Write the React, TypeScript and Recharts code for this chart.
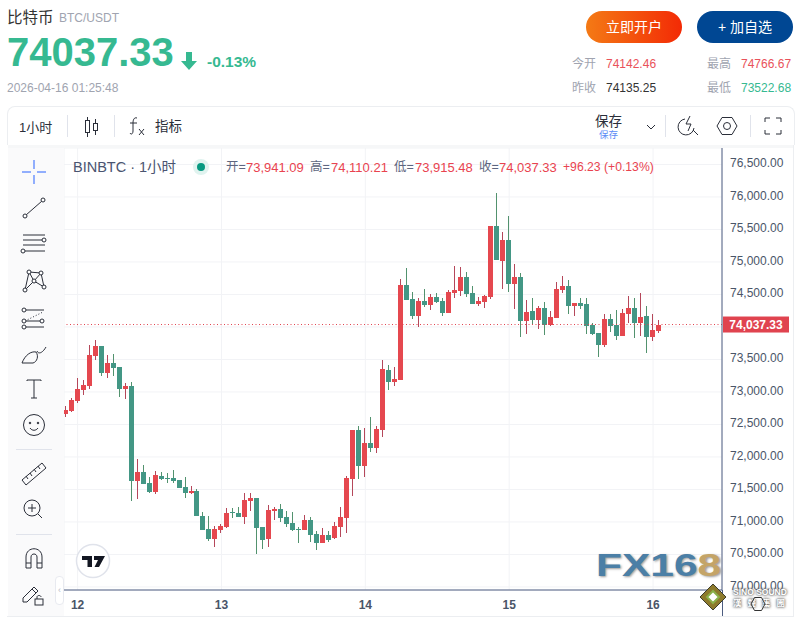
import React from "react";
import { ComposedChart, Bar, XAxis, YAxis, CartesianGrid, ReferenceLine } from "recharts";

const opens = [72654,72700,72854,73023,73085,73546,73700,73285,73438,73377,73038,73085,71623,71762,71592,71454,71700,71669,71669,71638,71531,71439,71469,71085,70885,70731,70869,70915,
71146,71131,71069,71315,71362,70915,70731,71162,71192,71069,70977,70885,70869,71023,70808,70669,70792,70746,70915,71054,71654,72408,71854,72208,72131,72408,73331,73146,
73177,74639,74423,74162,74392,74331,74454,74392,74208,74515,74546,74762,74515,74346,74377,74454,75546,75008,75331,74654,74762,74085,74239,
74100,74285,74023,74131,74561,74623,74315,74361,74346,74023,73900,73715,74115,74023,73854,74192,74285,74054,74161,73838,73941.09];
const highs = [72777,72900,73208,73177,73715,73792,73700,73562,73577,73377,73131,73146,71962,71869,71685,71777,71762,71746,71792,71638,71685,71546,71500,71146,71085,70931,70962,71208,
71208,71223,71438,71438,71362,70915,71254,71223,71269,71162,71146,70915,71100,71069,70854,70900,70854,70992,71223,71700,72408,72469,72438,72608,72469,73485,73408,73377,
74731,74900,74531,74438,74577,74500,74515,74438,74562,74931,74915,74838,74623,74454,74485,75546,76054,75454,75700,74962,74823,74408,74438,
74315,74377,74238,74685,74777,74715,74375,74438,74438,74054,73900,74192,74192,74254,74269,74469,74438,74515,74315,74192,74110.21];
const lows = [72608,72685,72823,72946,73038,73485,73238,73208,73238,72915,72885,71315,71346,71577,71439,71423,71638,71592,71592,71515,71362,71423,71085,70869,70700,70608,70823,70900,
71054,71069,70962,71162,70500,70577,70608,71023,70992,70915,70854,70669,70869,70685,70562,70669,70685,70731,70762,70823,71392,71654,71685,72069,72054,72300,73023,73085,
73177,74408,74115,73992,74300,74254,74362,74162,74208,74438,74469,74454,74346,74315,74285,74423,75023,74577,74531,74269,73838,73885,74023,
73961,73869,74008,74131,74515,74192,74177,74269,73885,73869,73531,73685,73915,73792,73854,74054,73823,73854,73592,73777,73915.48];
const closes = [72715,72869,73038,73100,73562,73700,73285,73438,73362,73038,73085,71623,71762,71577,71454,71715,71649,71654,71623,71515,71439,71469,71085,70869,70731,70885,70931,71131,
71131,71069,71331,71362,70900,70715,71177,71192,71054,70962,70869,70869,71023,70792,70669,70792,70715,70931,71069,71669,72408,71854,72208,72131,72423,73346,73146,73192,
74639,74408,74162,74392,74331,74454,74377,74208,74531,74562,74762,74500,74346,74392,74469,75546,75023,75331,74654,74762,74085,74223,74100,
74285,74023,74146,74577,74623,74315,74361,74315,74008,73885,73715,74115,74008,73854,74208,74285,74054,74146,73838,73946,74037.33];
const dayTicks = [2, 26, 50, 74, 98];
const dayLabels = ["12", "13", "14", "15", "16"];
const priceTicks = [70000,70500,71000,71500,72000,72500,73000,73500,74000,74500,75000,75500,76000,76500];
const lastPrice = 74037.33;
const coveredTick = 74000;

const UP = "#e5484f";
const DOWN = "#439785";
const UP_WICK = "#b5475a";
const DOWN_WICK = "#52926e";

const rows = opens.map((o, i) => ({
  i,
  open: o,
  close: closes[i],
  body: [Math.min(o, closes[i]), Math.max(o, closes[i])],
  wick: [lows[i], highs[i]],
}));

const Wick = (p: any) => {
  const cx = p.x + p.width / 2;
  const up = p.payload.close >= p.payload.open;
  return <rect x={Math.round(cx - 0.5)} y={Math.round(p.y)} width={1} height={Math.max(1, Math.round(p.height))} fill={up ? UP_WICK : DOWN_WICK} />;
};
const Body = (p: any) => {
  const cx = p.x + p.width / 2;
  const up = p.payload.close >= p.payload.open;
  return <rect x={Math.round(cx - 2.5)} y={Math.round(p.y)} width={5} height={Math.max(1, Math.round(p.height))} fill={up ? UP : DOWN} />;
};
const PriceTag = (p: any) => {
  const y = p.viewBox.y;
  const x = p.viewBox.x + p.viewBox.width;
  return (
    <g>
      <rect x={x + 1} y={y - 8} width={66} height={16} fill="#e0434f" />
      <text x={x + 34} y={y + 4} textAnchor="middle" fontSize={12} fontWeight={700} fontFamily="Liberation Sans" fill="#fff">74,037.33</text>
    </g>
  );
};
const PriceAxisTick = (p: any) => {
  const v = p.payload.value;
  if (v === coveredTick) return <g />;
  return (
    <text x={p.x} y={p.y + 3} fontSize={12} fill="#4a5568" fontFamily="Liberation Sans">
      {v.toLocaleString("en-US") + ".00"}
    </text>
  );
};

const sans = "'Liberation Sans', 'Noto Sans CJK SC', sans-serif";
const abs = (l: number, t: number, extra: React.CSSProperties = {}): React.CSSProperties => ({
  position: "absolute", left: l, top: t, whiteSpace: "nowrap", lineHeight: 1, fontFamily: sans, ...extra,
});
const T = ({ x, y, s, c, children, w }: any) => (
  <div style={abs(x, y - s / 2, { fontSize: s, color: c, fontWeight: w || 400 })}>{children}</div>
);

const ink = "#2a2e39";
const Icon = ({ cx, cy, children }: any) => (
  <svg width={30} height={30} viewBox="-15 -15 30 30" style={{ position: "absolute", left: cx - 15, top: cy - 15 }} fill="none" stroke={ink} strokeWidth={1}>
    {children}
  </svg>
);
const Node = ({ x, y }: any) => <circle cx={x} cy={y} r={2} fill="#fff" />;

const Sidebar = () => (
  <>
    <div style={{ position: "absolute", left: 8, top: 148, width: 56, height: 468, background: "#fafafb" }} />
    <Icon cx={34} cy={172}>
      <path d="M-12 0H-3M3 0H12M0 -12V-3M0 3V12" stroke="#2962ff" />
    </Icon>
    <Icon cx={34} cy={208}><path d="M-8 7L8 -7" /><Node x={-9} y={8} /><Node x={9} y={-8} /></Icon>
    <Icon cx={34} cy={244}>
      <path d="M-11 -9H11M-11 -4H10M-11 1H11M-9 7H11" /><Node x={10} y={-4} /><Node x={-11} y={7} />
    </Icon>
    <Icon cx={34} cy={281}>
      <path d="M-9 9L-5 -9L0 0L7 -8L10 6M-9 9L0 0L10 6M-5 -9L7 -8" /><Node x={-9} y={9} /><Node x={-5} y={-9} /><Node x={0} y={0} /><Node x={7} y={-8} /><Node x={10} y={6} />
    </Icon>
    <Icon cx={34} cy={318}>
      <path d="M-9 -8H10M-9 3H9M-9 9H10" /><path d="M-9 3L9 -6" strokeDasharray="1 2" /><Node x={-10} y={-8} /><Node x={-10} y={3} /><Node x={8} y={3} /><Node x={-10} y={9} />
    </Icon>
    <Icon cx={34} cy={355}>
      <path d="M-12 8C-9 0 -3 -4 2 -3C5 1 3 7 -1 8ZM3 -4C4 -1 8 -1 12 -8" />
    </Icon>
    <Icon cx={34} cy={389}><path d="M-7 -8V-9H7V-8M0 -9V9M-3 9H3" /></Icon>
    <Icon cx={34} cy={425}>
      <circle r={10.5} /><circle cx={-4} cy={-2} r={0.8} fill={ink} /><circle cx={4} cy={-2} r={0.8} fill={ink} /><path d="M-4 3C-2 6 2 6 4 3" />
    </Icon>
    <div style={{ position: "absolute", left: 16, top: 449, width: 36, height: 1, background: "#e0e3eb" }} />
    <Icon cx={34} cy={474}>
      <path d="M-12 6L8 -11L12 -6L-8 11Z" /><path d="M-8 2L-6 5M-4 -1L-2 2M0 -5L2 -2M4 -8L6 -5" />
    </Icon>
    <Icon cx={33} cy={509}>
      <circle cx={-1} cy={-1} r={8} /><path d="M-5 -1H3M-1 -5V3M5 5L9 9" />
    </Icon>
    <div style={{ position: "absolute", left: 16, top: 534, width: 36, height: 1, background: "#e0e3eb" }} />
    <Icon cx={34} cy={559}>
      <path d="M-8 9V-2C-8 -13 8 -13 8 -2V9H3V-2C3 -6 -3 -6 -3 -2V9ZM-8 4H-3M3 4H8" />
    </Icon>
    <Icon cx={33} cy={595}>
      <path d="M-10 3L1 -8L5 -4L-6 7L-10 7ZM-1 -6L3 -2" /><rect x={2} y={4} width={8} height={6} /><path d="M4 4V2C4 0 8 0 8 2" />
    </Icon>
    <div style={{ position: "absolute", left: 55, top: 576, width: 7, height: 27, background: "#fff", border: "1px solid #e8eaf0", borderRadius: 4, color: "#b8bcc8", fontSize: 9, lineHeight: "27px", textAlign: "center", fontFamily: sans }}>‹</div>
  </>
);

const Toolbar = () => (
  <>
    <div style={{ position: "absolute", left: 7, top: 106, width: 786, height: 38, background: "#fff", border: "1px solid #eceef1", borderBottom: "none", borderRadius: "8px 8px 0 0" }} />
    <div style={{ position: "absolute", left: 8, top: 145, width: 785, height: 3, background: "#f6f7f8" }} />
    <T x={19} y={127} s={13} c="#2a2e39">1小时</T>
    <div style={{ position: "absolute", left: 67, top: 115, width: 1, height: 22, background: "#e0e3eb" }} />
    <svg width={16} height={24} style={{ position: "absolute", left: 84, top: 115 }} fill="none" stroke={ink}>
      <rect x={1.5} y={5.5} width={4} height={12} /><path d="M3.5 2V5M3.5 18V22" />
      <rect x={9.5} y={8.5} width={4} height={7} /><path d="M11.5 4V8M11.5 16V20" />
    </svg>
    <div style={{ position: "absolute", left: 114, top: 115, width: 1, height: 22, background: "#e0e3eb" }} />
    <Icon cx={138} cy={126}>
      <path d="M-1 -8C-4 -9 -5 -6 -5 -3V5C-5 8 -7 9 -8 7M-8 -3H-1M1 3L6 9M6 3L1 9" />
    </Icon>
    <T x={155} y={127} s={13.5} c="#2a2e39">指标</T>
    <T x={595} y={122} s={13.5} c="#2a2e39">保存</T>
    <T x={599} y={135} s={9.5} c="#5b8bf5">保存</T>
    <svg width={10} height={6} style={{ position: "absolute", left: 646, top: 124 }} fill="none" stroke={ink}><path d="M1 1L5 5L9 1" /></svg>
    <div style={{ position: "absolute", left: 665, top: 115, width: 1, height: 22, background: "#e0e3eb" }} />
    <Icon cx={688} cy={126}>
      <path d="M-3 -7A8 8 0 1 0 6 2M5 4L10 9M2 -10L-2 -2H3L0 5" />
    </Icon>
    <Icon cx={727} cy={126}>
      <path d="M-10 0L-5 -8.500H5L10 0L5 8.500H-5Z" /><circle r={3.5} />
    </Icon>
    <div style={{ position: "absolute", left: 750, top: 115, width: 1, height: 22, background: "#e0e3eb" }} />
    <Icon cx={773} cy={126}>
      <path d="M-8 -4V-8H-3M3 -8H8V-4M8 4V8H3M-3 8H-8V4" />
    </Icon>
  </>
);

const gray = "#a0a4b0";
const red = "#e9525a";
const green = "#36b991";
const Header = () => (
  <>
    <T x={7} y={18} s={15.5} c="#333">比特币</T>
    <T x={59} y={18} s={12} c={gray}>BTC/USDT</T>
    <div style={abs(7, 32, { fontSize: 40, fontWeight: 700, color: green })}>74037.33</div>
    <svg width={16} height={18} style={{ position: "absolute", left: 181, top: 52 }}><path d="M5 0H11V9H16L8 18L0 9H5Z" fill={green} /></svg>
    <T x={207} y={62} s={15.5} c={green} w={700}>-0.13%</T>
    <T x={7} y={88} s={12} c={gray}>2026-04-16 01:25:48</T>
    <div style={{ position: "absolute", left: 586, top: 11, width: 96, height: 32, borderRadius: 16, background: "linear-gradient(90deg,#f47a15,#f32a05)", color: "#fff", textAlign: "center", lineHeight: "32px", fontSize: 14, fontFamily: sans }}>立即开户</div>
    <div style={{ position: "absolute", left: 697, top: 11, width: 96, height: 32, borderRadius: 16, background: "#004793", color: "#fff", textAlign: "center", lineHeight: "32px", fontSize: 14, fontFamily: sans }}>+ 加自选</div>
    <T x={572} y={64} s={12} c={gray}>今开</T>
    <T x={606} y={64} s={12} c={red}>74142.46</T>
    <T x={707} y={64} s={12} c={gray}>最高</T>
    <T x={741} y={64} s={12} c={red}>74766.67</T>
    <T x={572} y={88} s={12} c={gray}>昨收</T>
    <T x={606} y={88} s={12} c="#333">74135.25</T>
    <T x={707} y={88} s={12} c={gray}>最低</T>
    <T x={741} y={88} s={12} c={green}>73522.68</T>
  </>
);

const lab = "#5d6680";
const val = "#e9434f";
const Legend = () => (
  <>
    <T x={73} y={167} s={14.5} c="#4a5470">BINBTC · 1小时</T>
    <div style={{ position: "absolute", left: 193, top: 159, width: 16, height: 16, borderRadius: 8, background: "#e0f3ef" }} />
    <div style={{ position: "absolute", left: 197, top: 163, width: 8, height: 8, borderRadius: 4, background: "#089981" }} />
    <T x={226} y={167} s={12.5} c={lab}>开=</T><T x={246} y={167} s={13} c={val}>73,941.09</T>
    <T x={310} y={167} s={12.5} c={lab}>高=</T><T x={331} y={167} s={13} c={val}>74,110.21</T>
    <T x={394} y={167} s={12.5} c={lab}>低=</T><T x={415} y={167} s={13} c={val}>73,915.48</T>
    <T x={479} y={167} s={12.5} c={lab}>收=</T><T x={499} y={167} s={13} c={val}>74,037.33</T>
    <T x={563} y={167} s={12.2} c={val}>+96.23 (+0.13%)</T>
  </>
);

const Watermarks = () => (
  <>
    <svg width={36} height={36} style={{ position: "absolute", left: 75, top: 543 }}>
      <circle cx={18} cy={18} r={16.500} fill="#fff" stroke="#e0e3eb" strokeWidth={1.5} />
      <path d="M7 13H17V24H12.500V17H7ZM19 13H30L24 24H19.500L23 17H19Z" fill="#131722" />
    </svg>
    <div style={abs(596, 550, { fontSize: 31, fontWeight: 700, color: "#4b7fa6", transform: "scaleX(1.37)", transformOrigin: "left top", textShadow: "1px 1px 2px #999" })}>
      FX16<span style={{ color: "#c4a467" }}>8</span>
    </div>
    <svg width={30} height={30} style={{ position: "absolute", left: 698, top: 582 }}>
      <path d="M15 2L28 15L15 28L2 15Z" fill="#8d7a2c" stroke="#3c3c2c" />
      <path d="M15 9L21 15L15 21L9 15Z" fill="#fff" stroke="#8bb04a" strokeWidth={2} />
    </svg>
    <div style={abs(733, 588, { fontSize: 8.500, fontWeight: 700, color: "#fff", textShadow: "0 0 2px #555, 0 0 3px #555" })}>SINO SOUND</div>
    <div style={abs(733, 599, { fontSize: 8.500, fontWeight: 700, color: "#fff", letterSpacing: 6, textShadow: "0 0 2px #555, 0 0 3px #555" })}>漢聲集團</div>
    <svg width={16} height={16} style={{ position: "absolute", left: 750, top: 596 }} fill="none" stroke="#333"><path d="M1 8L4.500 1.500H11.500L15 8L11.500 14.500H4.500Z" /></svg>
  </>
);

export default function App() {
  return (
    <div style={{ position: "absolute", left: 0, top: 0, width: 800, height: 619, overflow: "hidden", background: "#fff" }}>
      <Header />
      <div style={{ position: "absolute", left: 0, top: 0 }}>
        <ComposedChart width={800} height={619} data={rows} margin={{ left: 64, right: 7, top: 148, bottom: 3 }}>
          <CartesianGrid xAxisId="w" yAxisId="p" stroke="#f2f3f6" strokeWidth={1} />
          <XAxis xAxisId="b" type="number" dataKey="i" domain={[-0.27, 109.5]} allowDataOverflow hide height={0} />
          <XAxis xAxisId="w" type="number" dataKey="i" domain={[-0.27, 109.5]} allowDataOverflow ticks={dayTicks}
            tickFormatter={(v: number) => dayLabels[dayTicks.indexOf(v)]} height={26} tickLine={false} tickMargin={4}
            axisLine={{ stroke: "#4d5d80" }} tick={{ fontSize: 12, fontWeight: 700, fill: "#4a5568", fontFamily: "Liberation Sans" }} interval={0} />
          <YAxis yAxisId="p" orientation="right" domain={[69953, 76753]} allowDataOverflow ticks={priceTicks} width={71} interval={0}
            tickLine={false} axisLine={{ stroke: "#4d5d80" }} tick={PriceAxisTick} />
          <Bar xAxisId="w" yAxisId="p" dataKey="wick" barSize={1} shape={Wick} isAnimationActive={false} />
          <Bar xAxisId="b" yAxisId="p" dataKey="body" barSize={5} shape={Body} isAnimationActive={false} />
          <ReferenceLine xAxisId="w" yAxisId="p" y={lastPrice} stroke="#e0434f" strokeDasharray="1 2.500" label={PriceTag} />
        </ComposedChart>
      </div>
      <div style={{ position: "absolute", left: 722, top: 590, width: 1, height: 26, background: "#4d5d80" }} />
      <div style={{ position: "absolute", left: 793, top: 145, width: 1, height: 471, background: "#eceef1" }} />
      <div style={{ position: "absolute", left: 7, top: 616, width: 787, height: 1, background: "#eceef1" }} />
      <Legend />
      <Toolbar />
      <Sidebar />
      <Watermarks />
    </div>
  );
}
